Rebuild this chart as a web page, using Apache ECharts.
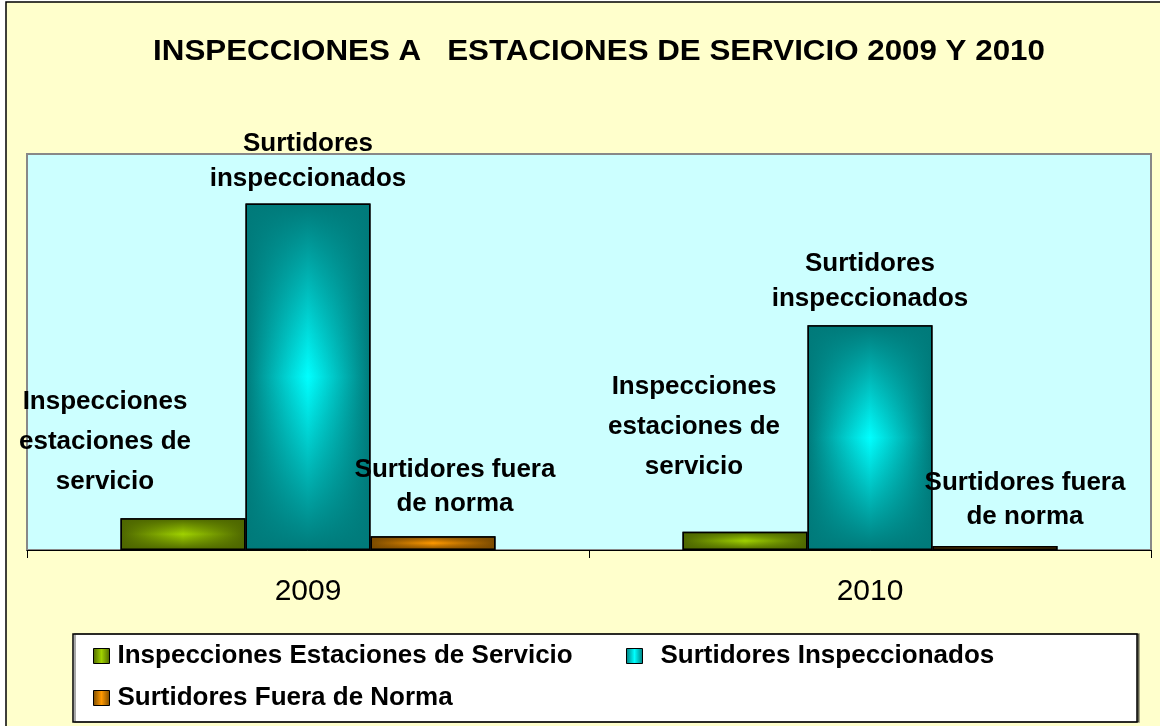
<!DOCTYPE html>
<html>
<head>
<meta charset="utf-8">
<script src="https://cdn.jsdelivr.net/npm/echarts@6/dist/echarts.min.js"></script>
<style>
html,body{margin:0;padding:0;background:#ffffff;}
#chart{width:1160px;height:726px;}
</style>
</head>
<body>
<div id="chart"></div>
<script>
// ---- data ----
const categories = ['2009', '2010'];
const seriesNames = [
  'Inspecciones Estaciones de Servicio',
  'Surtidores Inspeccionados',
  'Surtidores Fuera de Norma'
];
const inspeccionesEstaciones = [32, 18.5];
const surtidoresInspeccionados = [350, 227];
const surtidoresFueraNorma = [14, 4];
const labelTexts = [
  'Inspecciones\nestaciones de\nservicio',
  'Surtidores\ninspeccionados',
  'Surtidores fuera\nde norma'
];
const titleText = 'INSPECCIONES A   ESTACIONES DE SERVICIO 2009 Y 2010';

// ---- styling ----
const FONT = '"Liberation Sans", Arial, Helvetica, sans-serif';
const palettes = [
  { dark: [77, 102, 0], light: [160, 210, 0] },
  { dark: [0, 122, 122], light: [0, 255, 255] },
  { dark: [122, 74, 0], light: [255, 153, 0] }
];
const labelLayout = [
  { lh: 40, off: [[-78, -16], [-51, -45]] },
  { lh: 35, off: [[0, -7], [0, -9]] },
  { lh: 34, off: [[22, -15], [30, -12]] }
];
function rgba(c, a) { return 'rgba(' + c[0] + ',' + c[1] + ',' + c[2] + ',' + a + ')'; }

const allValues = [inspeccionesEstaciones, surtidoresInspeccionados, surtidoresFueraNorma];

function baseSeries(i) {
  const p = palettes[i];
  return {
    name: seriesNames[i],
    type: 'bar',
    xAxisIndex: 0,
    barWidth: 125,
    barGap: '0%',
    itemStyle: {
      color: { type: 'linear', x: 0, y: 0, x2: 1, y2: 0, colorStops: [
        { offset: 0, color: rgba(p.dark, 1) },
        { offset: 0.5, color: rgba(p.light, 1) },
        { offset: 1, color: rgba(p.dark, 1) }
      ] },
      borderColor: '#000',
      borderWidth: 1.5
    },
    label: {
      show: true,
      position: 'top',
      distance: 0,
      formatter: labelTexts[i],
      fontFamily: FONT,
      fontWeight: 'bold',
      fontSize: 26,
      lineHeight: labelLayout[i].lh,
      color: '#000',
      align: 'center'
    },
    emphasis: { disabled: true },
    data: allValues[i].map((v, j) => ({ value: v, label: { offset: labelLayout[i].off[j] } }))
  };
}
function overlaySeries(i) {
  const p = palettes[i];
  return {
    name: seriesNames[i] + ' (sombra)',
    type: 'bar',
    xAxisIndex: 1,
    barWidth: 125,
    barGap: '0%',
    silent: true,
    itemStyle: {
      color: { type: 'linear', x: 0, y: 0, x2: 0, y2: 1, colorStops: [
        { offset: 0, color: rgba(p.dark, 1) },
        { offset: 0.5, color: rgba(p.dark, 0) },
        { offset: 1, color: rgba(p.dark, 1) }
      ] },
      borderColor: '#000',
      borderWidth: 1.5
    },
    emphasis: { disabled: true },
    data: allValues[i]
  };
}

const legendCommon = {
  orient: 'horizontal',
  itemWidth: 16,
  itemHeight: 15,
  icon: 'rect',
  padding: 0,
  selectedMode: false,
  itemStyle: { borderColor: '#000', borderWidth: 1 },
  textStyle: { fontFamily: FONT, fontSize: 26, fontWeight: 'bold', color: '#000', padding: [0, 0, 0, 3] }
};

const chart = echarts.init(document.getElementById('chart'), null, { renderer: 'canvas' });
chart.setOption({
  backgroundColor: '#ffffff',
  animation: false,
  graphic: [
    { type: 'rect', z: -10, shape: { x: 6, y: 2, width: 1200, height: 800 },
      style: { fill: '#FFFFCC', stroke: '#000', lineWidth: 1.5 } },
    { type: 'rect', z: 1, shape: { x: 73, y: 634, width: 1064, height: 88 },
      style: { fill: '#FFFFFF', stroke: '#000', lineWidth: 1.5, shadowColor: 'rgba(0,0,0,0.45)', shadowOffsetX: 2, shadowOffsetY: 0, shadowBlur: 0 } },
    { type: 'text', z: 5, x: 599, y: 52, scaleX: 1.08,
      style: { text: titleText, textAlign: 'center', textVerticalAlign: 'middle',
        font: 'bold 29px "Liberation Sans", Arial, sans-serif', fill: '#000' } }
  ],
  grid: {
    left: 27, right: 9, top: 154, bottom: 176,
    show: true, backgroundColor: '#CCFFFF', borderColor: '#888888', borderWidth: 2
  },
  legend: [
    Object.assign({}, legendCommon, { data: [seriesNames[0]], left: 93, top: 643 }),
    Object.assign({}, legendCommon, { data: [seriesNames[1]], left: 626, top: 643,
      textStyle: Object.assign({}, legendCommon.textStyle, { padding: [0, 0, 0, 13] }) }),
    Object.assign({}, legendCommon, { data: [seriesNames[2]], left: 93, top: 685 })
  ],
  xAxis: [
    {
      type: 'category', data: categories, boundaryGap: true,
      axisLine: { show: true, lineStyle: { color: '#000', width: 1 } },
      axisTick: { show: true, length: 8, lineStyle: { color: '#000', width: 1 } },
      axisLabel: { fontFamily: FONT, fontSize: 30, color: '#000', margin: 27 },
      splitLine: { show: false }
    },
    { type: 'category', data: categories, show: false, boundaryGap: true }
  ],
  yAxis: { type: 'value', min: 0, max: 400, show: false, splitLine: { show: false } },
  series: [baseSeries(0), baseSeries(1), baseSeries(2), overlaySeries(0), overlaySeries(1), overlaySeries(2)]
});
</script>
</body>
</html>
